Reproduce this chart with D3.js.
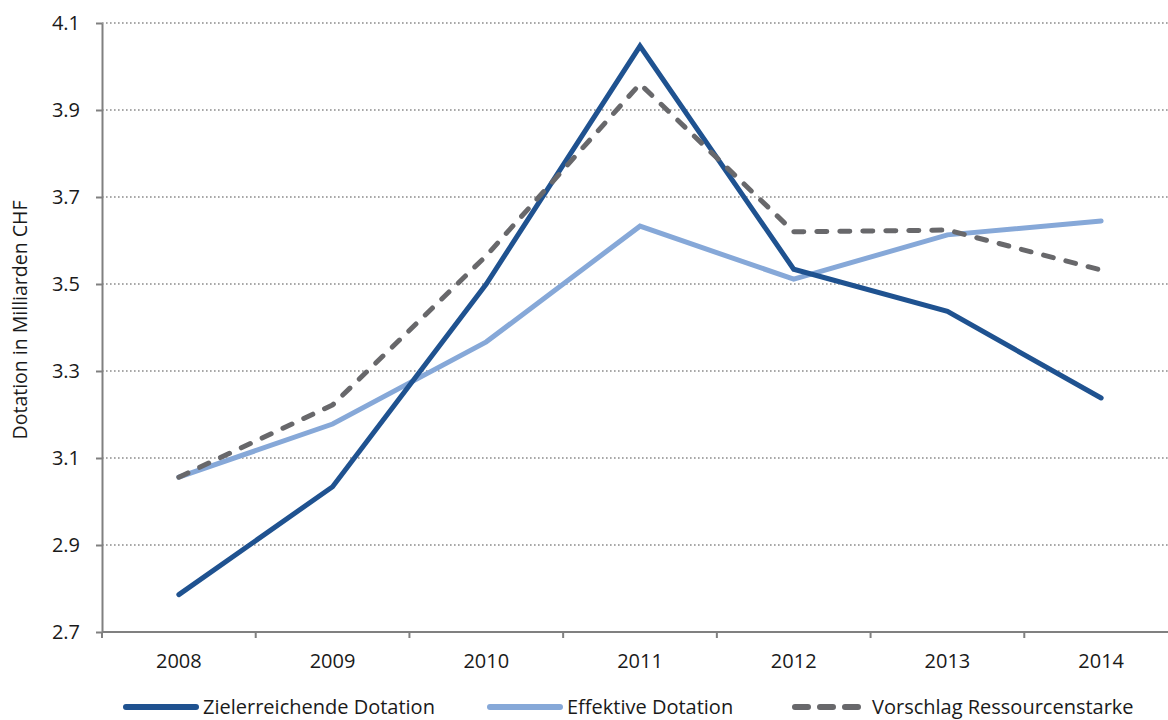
<!DOCTYPE html>
<html>
<head>
<meta charset="utf-8">
<script src="https://cdn.jsdelivr.net/npm/d3@7"></script>
<style>
  html, body { margin: 0; padding: 0; background: #fff; }
  svg { display: block; font-family: "Open Sans", "Noto Sans", sans-serif; }
</style>
</head>
<body>
<svg id="chart" width="1168" height="720"></svg>
<script>
// Jahre und Werte (Milliarden CHF)
const years = ["2008", "2009", "2010", "2011", "2012", "2013", "2014"];
const zielerreichend = [2.786, 3.034, 3.500, 4.047, 3.534, 3.437, 3.238];
const effektiv = [3.056, 3.178, 3.367, 3.633, 3.511, 3.613, 3.645];
const vorschlag = [3.056, 3.222, 3.565, 3.960, 3.620, 3.624, 3.532];
const yTicks = [2.7, 2.9, 3.1, 3.3, 3.5, 3.7, 3.9, 4.1];

const series = [
  { name: "Zielerreichende Dotation", values: zielerreichend, color: "#1f5290", dash: null },
  { name: "Effektive Dotation", values: effektiv, color: "#86a8d8", dash: null },
  { name: "Vorschlag Ressourcenstarke", values: vorschlag, color: "#68686b", dash: "10,13" }
];

const svg = d3.select("#chart");
const plotLeft = 102, plotRight = 1178, plotTop = 23, plotBottom = 632;

const x = d3.scaleBand().domain(years).range([plotLeft, plotRight]);
const y = d3.scaleLinear().domain([2.7, 4.1]).range([plotBottom, plotTop]);

// Gitterlinien
svg.append("g")
  .selectAll("line")
  .data(yTicks.slice(1))
  .join("line")
  .attr("x1", plotLeft).attr("x2", 1168)
  .attr("y1", d => y(d)).attr("y2", d => y(d))
  .attr("stroke", "#8c8c8c")
  .attr("stroke-width", 1.6)
  .attr("stroke-dasharray", "1.6,2.4");

// Y-Achse
const yAxis = svg.append("g")
  .attr("transform", `translate(${plotLeft},0)`)
  .call(d3.axisLeft(y).tickValues(yTicks).tickFormat(d3.format(".1f")).tickSize(6).tickSizeOuter(0));
yAxis.select(".domain").attr("stroke", "#808080").attr("stroke-width", 2);
yAxis.selectAll(".tick line").attr("stroke", "#808080").attr("stroke-width", 2);
yAxis.selectAll(".tick text")
  .attr("x", -22)
  .attr("fill", "#1a1a1a")
  .style("font-size", "20px")
  .style("font-family", "'Open Sans', sans-serif");

// X-Achse mit Strichen an den Kategoriegrenzen
const xAxisG = svg.append("g").attr("transform", `translate(0,${plotBottom})`);
xAxisG.append("line")
  .attr("x1", plotLeft).attr("x2", 1168)
  .attr("stroke", "#808080").attr("stroke-width", 2);
xAxisG.selectAll("line.tk")
  .data(years)
  .join("line")
  .attr("class", "tk")
  .attr("x1", d => x(d)).attr("x2", d => x(d))
  .attr("y1", 0).attr("y2", 6)
  .attr("stroke", "#808080").attr("stroke-width", 2);
xAxisG.selectAll("text")
  .data(years)
  .join("text")
  .attr("x", d => x(d) + x.bandwidth() / 2)
  .attr("y", 36)
  .attr("text-anchor", "middle")
  .attr("fill", "#1a1a1a")
  .style("font-size", "20px")
  .text(d => d);

// Achsentitel
svg.append("text")
  .attr("transform", `translate(27,320) rotate(-90)`)
  .attr("text-anchor", "middle")
  .attr("fill", "#1a1a1a")
  .style("font-size", "19.5px")
  .text("Dotation in Milliarden CHF");

// Linien
const line = d3.line()
  .x((d, i) => x(years[i]) + x.bandwidth() / 2)
  .y(d => y(d));

svg.append("g")
  .selectAll("path")
  .data([series[1], series[0], series[2]])
  .join("path")
  .attr("d", d => line(d.values))
  .attr("fill", "none")
  .attr("stroke", d => d.color)
  .attr("stroke-width", 5)
  .attr("stroke-linecap", "round")
  .attr("stroke-linejoin", "miter")
  .attr("stroke-dasharray", d => d.dash);

// Legende
const legendX = [126, 490, 795];
const legend = svg.append("g")
  .selectAll("g")
  .data(series)
  .join("g")
  .attr("transform", (d, i) => `translate(${legendX[i]},707)`);
legend.append("line")
  .attr("x1", 0).attr("x2", 70)
  .attr("stroke", d => d.color)
  .attr("stroke-width", 6)
  .attr("stroke-linecap", "round")
  .attr("stroke-dasharray", d => d.dash ? "13,12" : null);
legend.append("text")
  .attr("x", 77)
  .attr("y", 7)
  .attr("fill", "#1a1a1a")
  .style("font-size", "20px")
  .text(d => d.name);
</script>
</body>
</html>
